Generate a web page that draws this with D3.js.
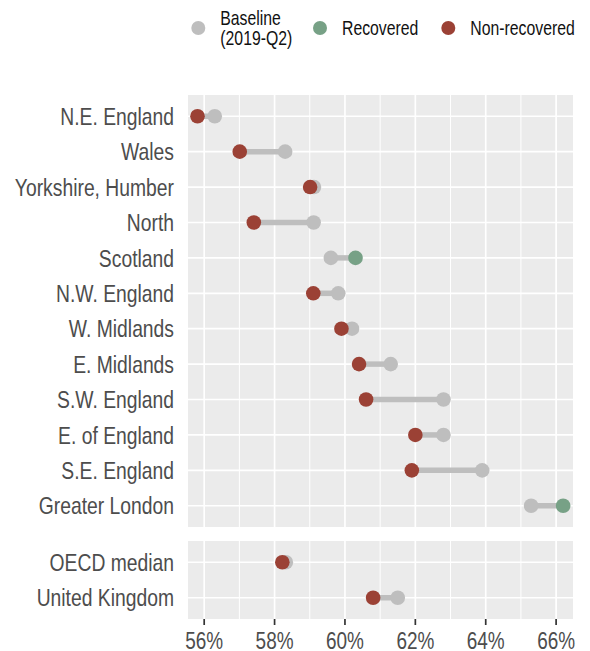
<!DOCTYPE html>
<html>
<head>
<meta charset="utf-8">
<script src="https://cdn.jsdelivr.net/npm/d3@7"></script>
<style>
  body { margin: 0; background: #fff; }
  svg text { font-family: "Liberation Sans", Arial, sans-serif; }
</style>
</head>
<body>
<svg id="chart"></svg>
<script>
// regions (top panel), ordered top to bottom
const regions = ['N.E. England', 'Wales', 'Yorkshire, Humber', 'North', 'Scotland',
                 'N.W. England', 'W. Midlands', 'E. Midlands', 'S.W. England',
                 'E. of England', 'S.E. England', 'Greater London'];
const regionBaseline = [56.3, 58.3, 59.12, 59.11, 59.6, 59.81, 60.2, 61.3, 62.8, 62.8, 63.9, 65.29];
const regionCurrent  = [55.81, 57.01, 59.01, 57.41, 60.3, 59.1, 59.9, 60.4, 60.6, 62.0, 61.9, 66.2];

// comparison rows (bottom panel)
const compare = ['OECD median', 'United Kingdom'];
const compareBaseline = [58.32, 61.5];
const compareCurrent  = [58.22, 60.8];

const xTicks = [56, 58, 60, 62, 64, 66];
const xMinor = [57, 59, 61, 63, 65];

const legendItems = [
  {label: ['Baseline', '(2019-Q2)'], color: '#BEBEBE'},
  {label: ['Recovered'], color: '#77A186'},
  {label: ['Non-recovered'], color: '#9B4135'}
];

const width = 590, height = 651;
const grey = '#BEBEBE', green = '#77A186', red = '#9B4135';

const svg = d3.select('#chart').attr('width', width).attr('height', height);

const x = d3.scaleLinear().domain([55.54, 66.48]).range([188, 573]);

// the original uses a narrow font, so squeeze the text horizontally
function narrowText(parent, tx, ty, txt, size, anchor, fill, sx) {
  const g = parent.append('g')
    .attr('transform', 'translate(' + tx + ',' + ty + ') scale(' + sx + ',1)');
  return g.append('text')
    .attr('text-anchor', anchor).attr('font-size', size).attr('fill', fill)
    .text(txt);
}

// build one panel per group
function drawPanel(names, base, curr, top, bottom, showAxis) {
  const y = d3.scalePoint().domain(names).range([top, bottom]).padding(0.6);
  const g = svg.append('g');

  g.append('rect')
   .attr('x', x.range()[0]).attr('y', top)
   .attr('width', x.range()[1] - x.range()[0]).attr('height', bottom - top)
   .attr('fill', '#EBEBEB');

  // grid
  g.selectAll('.minor').data(xMinor).enter().append('line')
   .attr('x1', d => x(d)).attr('x2', d => x(d))
   .attr('y1', top).attr('y2', bottom)
   .attr('stroke', '#fff').attr('stroke-width', 1);
  g.selectAll('.major').data(xTicks).enter().append('line')
   .attr('x1', d => x(d)).attr('x2', d => x(d))
   .attr('y1', top).attr('y2', bottom)
   .attr('stroke', '#fff').attr('stroke-width', 1.7);
  g.selectAll('.hgrid').data(names).enter().append('line')
   .attr('x1', x.range()[0]).attr('x2', x.range()[1])
   .attr('y1', d => y(d)).attr('y2', d => y(d))
   .attr('stroke', '#fff').attr('stroke-width', 1.7);

  const rows = names.map((n, i) => ({name: n, base: base[i], curr: curr[i]}));

  // segments
  g.selectAll('.seg').data(rows).enter().append('line')
   .attr('x1', d => x(d.base)).attr('x2', d => x(d.curr))
   .attr('y1', d => y(d.name)).attr('y2', d => y(d.name))
   .attr('stroke', grey).attr('stroke-width', 5.5);

  g.selectAll('.basept').data(rows).enter().append('circle')
   .attr('cx', d => x(d.base)).attr('cy', d => y(d.name))
   .attr('r', 7.3).attr('fill', grey);

  g.selectAll('.currpt').data(rows).enter().append('circle')
   .attr('cx', d => x(d.curr)).attr('cy', d => y(d.name))
   .attr('r', 7.3).attr('fill', d => d.curr >= d.base ? green : red);

  // y labels
  names.forEach(n => {
    narrowText(g, 174, y(n), n, 24, 'end', '#4D4D4D', 0.805).attr('dy', '0.36em');
  });

  if (showAxis) {
    g.selectAll('.tick').data(xTicks).enter().append('line')
     .attr('x1', d => x(d)).attr('x2', d => x(d))
     .attr('y1', bottom).attr('y2', bottom + 6)
     .attr('stroke', '#333').attr('stroke-width', 1.7);
    xTicks.forEach(t => {
      narrowText(g, x(t), bottom + 30, t + '%', 24, 'middle', '#4D4D4D', 0.79);
    });
  }
}

drawPanel(regions, regionBaseline, regionCurrent, 95, 527, false);
drawPanel(compare, compareBaseline, compareCurrent, 541, 619, true);

// legend
const legendX = [198.3, 320, 448.3];
const leg = svg.append('g');
legendItems.forEach((d, i) => {
  leg.append('circle').attr('cx', legendX[i]).attr('cy', 28).attr('r', 7).attr('fill', d.color);
  d.label.forEach((s, j) => {
    const ty = d.label.length === 1 ? 28 : 18 + j * 20;
    narrowText(leg, legendX[i] + 22, ty, s, 20, 'start', '#111', 0.79).attr('dy', '0.36em');
  });
});
</script>
</body>
</html>
